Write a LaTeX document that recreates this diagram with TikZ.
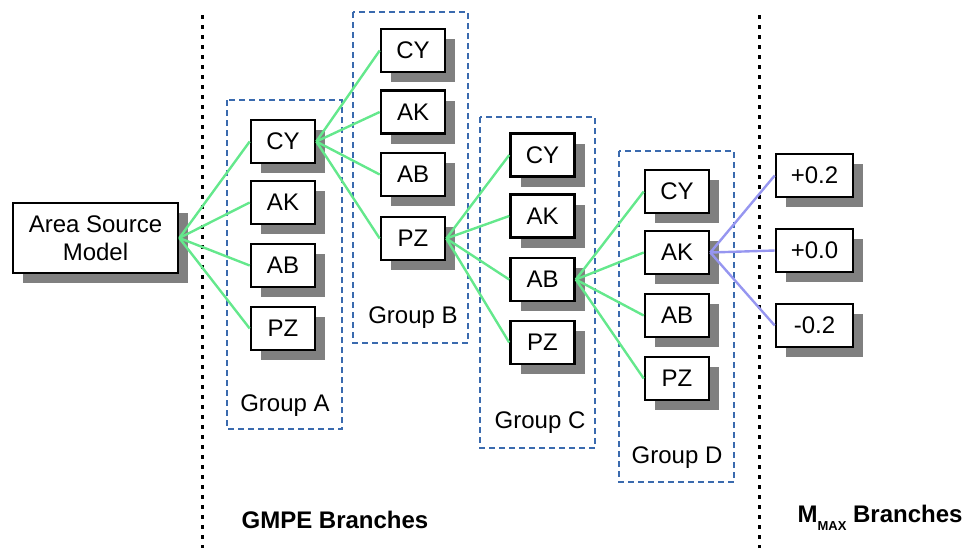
\documentclass[tikz,border=0pt]{standalone}
\usepackage{fontspec}
\setmainfont{Liberation Sans}
\usetikzlibrary{shadows}
\definecolor{edgegreen}{RGB}{100,232,140}
\definecolor{edgeblue}{RGB}{150,150,240}
\definecolor{grpblue}{RGB}{58,106,174}
\begin{document}
\begin{tikzpicture}[x=0.5pt,y=-0.5pt,
  font=\fontsize{12}{14}\selectfont,
  leaf/.style={draw=black, line width=1.3pt, fill=white, minimum width=32pt, minimum height=21.5pt, inner sep=0pt,
    drop shadow={shadow xshift=5pt, shadow yshift=-5pt, fill=black!50, opacity=1}},
  mleaf/.style={leaf, minimum width=38.5pt},
  rootbox/.style={leaf, minimum width=82.5pt, minimum height=35pt, align=center},
  grp/.style={draw=grpblue, line width=1pt, dash pattern=on 3pt off 2pt},
  sep/.style={draw=black, line width=1.5pt, dash pattern=on 2pt off 3pt},
  gedge/.style={draw=edgegreen, line width=1.2pt},
  bedge/.style={draw=edgeblue, line width=1.2pt},
  grplabel/.style={inner sep=0pt},
  headlabel/.style={inner sep=0pt, font=\fontsize{12}{14}\selectfont\bfseries}]
\useasboundingbox (0,0) rectangle (967,548);
% separators
\coordinate (s1t) at (202,15); \coordinate (s1b) at (202,548);
\coordinate (s2t) at (759,15); \coordinate (s2b) at (759,548);
\draw[sep] (s1t) -- (s1b);
\draw[sep] (s2t) -- (s2b);
% group frames
\draw[grp] (227,100) rectangle (342,429);
\draw[grp] (353,12) rectangle (468,343);
\draw[grp] (480,117) rectangle (595,448);
\draw[grp] (619,151) rectangle (734,482);
\node[grplabel] (ga) at (285,406) {Group A};
\node[grplabel] (gb) at (413,318) {Group B};
\node[grplabel] (gc) at (540,423) {Group C};
\node[grplabel] (gd) at (677,458) {Group D};
% nodes
\node[rootbox] (asm) at (95.5,238) {Area Source\\Model};
\node[leaf] (aCY) at (283,141.5) {CY};
\node[leaf] (aAK) at (283,202.5) {AK};
\node[leaf] (aAB) at (283,265.5) {AB};
\node[leaf] (aPZ) at (283,328.5) {PZ};
\node[leaf] (bCY) at (413,50.5) {CY};
\node[leaf] (bAK) at (413,112) {AK};
\node[leaf] (bAB) at (413,174.5) {AB};
\node[leaf] (bPZ) at (413,238.5) {PZ};
\node[leaf] (cCY) at (542.5,155) {CY};
\node[leaf] (cAK) at (542.5,216) {AK};
\node[leaf] (cAB) at (542.5,279.5) {AB};
\node[leaf] (cPZ) at (542.5,342.5) {PZ};
\node[leaf] (dCY) at (677,191.5) {CY};
\node[leaf] (dAK) at (677,252.5) {AK};
\node[leaf] (dAB) at (677,315.5) {AB};
\node[leaf] (dPZ) at (677,378.5) {PZ};
\node[mleaf] (mp) at (814.5,175.5) {+0.2};
\node[mleaf] (m0) at (814.5,250.5) {+0.0};
\node[mleaf] (mm) at (814.5,325.5) {-0.2};
% edges
\foreach \t in {aCY,aAK,aAB,aPZ} \draw[gedge] (asm.east) -- (\t.west);
\foreach \t in {bCY,bAK,bAB,bPZ} \draw[gedge] (aCY.east) -- (\t.west);
\foreach \t in {cCY,cAK,cAB,cPZ} \draw[gedge] (bPZ.east) -- (\t.west);
\foreach \t in {dCY,dAK,dAB,dPZ} \draw[gedge] (cAB.east) -- (\t.west);
\foreach \t in {mp,m0,mm} \draw[bedge] (dAK.east) -- (\t.west);
% headings
\node[headlabel] (h1) at (335,520) {GMPE Branches};
\node[headlabel] (h2) at (880,518) {M\raisebox{-4pt}{\fontsize{6.5}{7}\selectfont\bfseries MAX}\ Branches};
\end{tikzpicture}
\end{document}
